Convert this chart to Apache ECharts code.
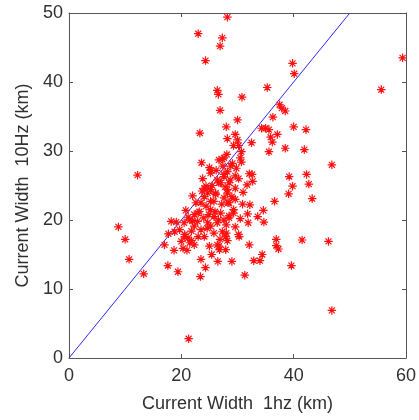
<!DOCTYPE html>
<html>
<head>
<meta charset="utf-8">
<script src="https://cdn.jsdelivr.net/npm/echarts@6/dist/echarts.min.js"></script>
<style>
html,body{margin:0;padding:0;background:#fff;}
#chart{width:419px;height:420px;}
</style>
</head>
<body>
<div id="chart"></div>
<script>
// Current width 1 Hz (km)
var width1hz = [
28.2,23.0,27.3,26.9,24.3,59.4,39.8,40.1,55.6,35.3,26.4,26.6,30.8,37.5,37.9,38.5,26.9,36.3,30.0,28.0,
23.3,34.3,35.0,35.6,40.0,42.2,28.2,29.6,30.0,35.9,37.1,36.2,32.5,29.3,30.2,38.5,41.9,35.6,30.7,28.1,
27.6,30.5,30.7,29.1,26.7,27.3,23.6,46.8,25.0,25.3,12.2,27.6,28.2,29.6,32.1,32.6,39.2,42.3,42.7,39.8,
39.1,43.3,36.6,31.7,32.7,28.5,29.6,28.2,29.6,30.9,32.2,28.3,34.6,33.6,34.7,31.8,31.9,29.3,28.5,28.0,
28.0,30.2,32.1,36.9,36.9,37.3,41.5,46.2,34.4,34.0,32.9,29.0,39.6,31.3,46.8,30.3,28.2,27.9,
8.8,10.0,10.7,13.3,17.6,19.4,23.4,24.3,23.5,26.5,25.4,26.8,21.3,17.0,18.7,21.0,20.0,17.7,18.2,19.1,
20.5,20.8,22.0,24.1,24.4,25.2,26.7,22.3,20.6,
24.4,23.5,23.0,25.2,25.8,27.0,27.6,28.5,26.4,25.2,23.5,23.0,24.1,21.8,21.5,26.4,25.0,22.6,24.1,25.2,
26.1,27.0,27.6,26.4,28.7,28.2,29.0,28.5,25.8,24.7,27.6,29.3,21.2,21.5,22.3,21.8,18.8,19.7,20.6,21.2,
20.3,24.7,27.3,27.9,22.9,25.8,26.7,26.1,25.2,23.2,22.3,24.0,26.0,27.2,25.5,23.8,28.8,26.2,29.8,24.6,
26.9,30.5,29.6,31.0,27.8,22.0,24.9,26.6,23.7,30.2,27.4
];
// Current width 10 Hz (km)
var width10hz = [
49.4,47.0,46.4,45.2,43.1,43.5,42.7,41.2,38.9,39.2,38.8,38.2,37.8,36.7,36.2,35.8,35.9,34.9,34.5,33.5,
32.6,33.3,33.3,33.1,33.5,33.1,31.8,32.4,31.6,32.0,32.4,31.3,31.2,30.8,30.8,30.4,30.2,29.9,29.9,29.5,
29.0,29.0,28.4,28.2,28.7,28.8,28.3,28.0,27.6,27.2,26.5,26.6,27.0,26.4,26.7,26.6,26.3,26.6,25.2,24.9,
23.8,23.1,22.7,25.1,25.6,25.4,24.6,23.9,23.0,22.3,22.2,22.5,21.4,20.5,19.7,20.9,19.6,21.0,20.6,19.3,
18.1,17.9,16.4,17.2,16.3,15.8,17.1,16.9,15.0,14.1,14.1,14.0,13.4,12.0,6.9,17.6,17.0,15.7,
19.0,17.2,14.3,12.2,13.4,12.5,11.8,13.1,14.3,14.0,15.0,15.7,2.8,16.4,15.6,15.6,16.9,18.0,19.8,19.7,
19.6,21.4,19.9,24.6,24.9,26.8,16.2,16.4,17.6,
22.0,22.5,21.0,21.5,20.5,21.0,20.0,20.3,19.6,19.1,18.6,17.6,17.6,17.0,16.7,16.4,16.2,22.5,23.4,24.4,
23.9,25.4,26.3,25.8,25.8,24.4,23.4,22.5,22.7,23.9,23.2,21.5,20.4,20.0,19.1,18.4,18.3,18.6,17.9,17.4,
15.9,19.6,18.3,17.6,19.8,18.1,25.4,23.7,22.7,21.2,20.8,20.3,21.2,22.3,25.0,26.0,27.8,27.2,27.5,18.8,
17.2,20.2,19.0,24.0,24.8,23.5,20.8,20.0,24.2,26.0,27.8
];
// reference line y = x
var refLineX = [0, 50];
var refLineY = [0, 50];
var xTicks = [0, 20, 40, 60];
var yTicks = [0, 10, 20, 30, 40, 50];

var points = width1hz.map(function (v, i) { return [v, width10hz[i]]; });
var linePts = refLineX.map(function (v, i) { return [v, refLineY[i]]; });

var FONT = '"Liberation Sans", Arial, Helvetica, sans-serif';
var AXC = '#555555';
var TXC = '#303030';

function xAx(pos, show) {
  return {
    type: 'value', position: pos, min: xTicks[0], max: xTicks[xTicks.length - 1], interval: 20,
    axisLine: { show: true, onZero: false, lineStyle: { color: AXC, width: 1 } },
    axisTick: { show: true, inside: true, length: 4, lineStyle: { color: AXC } },
    axisLabel: { show: show, color: TXC, fontSize: 18, fontFamily: FONT, margin: 9 },
    splitLine: { show: false },
    name: show ? 'Current Width  1hz (km)' : '',
    nameLocation: 'middle', nameGap: 37,
    nameTextStyle: { color: TXC, fontSize: 18, fontFamily: FONT }
  };
}
function yAx(pos, show) {
  return {
    type: 'value', position: pos, min: yTicks[0], max: yTicks[yTicks.length - 1], interval: 10,
    axisLine: { show: true, onZero: false, lineStyle: { color: AXC, width: 1 } },
    axisTick: { show: true, inside: true, length: 4, lineStyle: { color: AXC } },
    axisLabel: { show: show, color: TXC, fontSize: 18, fontFamily: FONT, margin: 6 },
    splitLine: { show: false },
    name: show ? 'Current Width  10Hz (km)' : '',
    nameLocation: 'middle', nameGap: 37, nameRotate: 90,
    nameTextStyle: { color: TXC, fontSize: 18, fontFamily: FONT }
  };
}

var chart = echarts.init(document.getElementById('chart'), null, { renderer: 'canvas' });
chart.setOption({
  animation: false,
  backgroundColor: '#ffffff',
  grid: { left: 69, right: 7, top: 13, bottom: 62, containLabel: false },
  xAxis: [xAx('bottom', true), xAx('top', false)],
  yAxis: [yAx('left', true), yAx('right', false)],
  series: [
    {
      type: 'line', xAxisIndex: 0, yAxisIndex: 0, data: linePts,
      symbol: 'none', lineStyle: { color: '#2a2aff', width: 1 }, z: 2
    },
    {
      type: 'scatter', xAxisIndex: 0, yAxisIndex: 0, data: points,
      symbol: 'path://M5,0L5,10M0,5L10,5M1.5,1.5L8.5,8.5M1.5,8.5L8.5,1.5',
      symbolSize: 8.5,
      itemStyle: { color: '#ff0000', borderColor: '#ff1010', borderWidth: 1.2, opacity: 1 },
      z: 3
    }
  ]
});
</script>
</body>
</html>
